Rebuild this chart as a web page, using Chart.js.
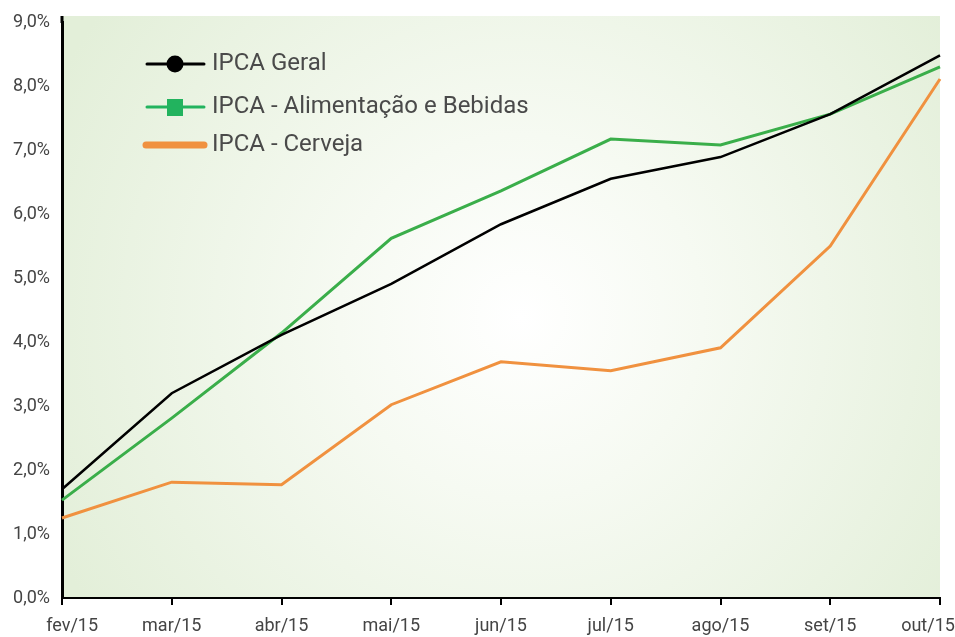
<!DOCTYPE html>
<html>
<head>
<meta charset="utf-8">
<script src="https://cdn.jsdelivr.net/npm/chart.js@4.4.0/dist/chart.umd.min.js"></script>
<style>
  html, body { margin: 0; padding: 0; background: #fff; }
  #wrap { width: 955px; height: 637px; }
</style>
</head>
<body>
<div id="wrap"><canvas id="chart" width="955" height="637"></canvas></div>
<script>
var months = ["fev/15", "mar/15", "abr/15", "mai/15", "jun/15", "jul/15", "ago/15", "set/15", "out/15"];
var ipcaGeral = [1.70, 3.20, 4.11, 4.91, 5.84, 6.55, 6.89, 7.56, 8.48];
var ipcaAlimentacao = [1.53, 2.81, 4.14, 5.62, 6.36, 7.17, 7.08, 7.56, 8.30];
var ipcaCerveja = [1.25, 1.81, 1.77, 3.02, 3.69, 3.55, 3.91, 5.50, 8.11];

var tickFont = "Roboto, sans-serif";

// gradient background behind the plot
var bgPlugin = {
    id: "bg",
    beforeDraw: function(chart) {
        var a = chart.chartArea, ctx = chart.ctx;
        var top = a.top - 6;
        ctx.save();
        var cx = (a.left + a.right) / 2 + 20, cy = (top + a.bottom) / 2 + 10;
        var g = ctx.createRadialGradient(cx, cy, 0, cx, cy, 520);
        g.addColorStop(0, "#ffffff");
        g.addColorStop(0.35, "#f6faf2");
        g.addColorStop(1, "#e3efd9");
        ctx.fillStyle = g;
        ctx.fillRect(a.left, top, a.right - a.left, a.bottom - top);
        // left axis runs up to the top of the panel
        ctx.strokeStyle = "#000";
        ctx.lineWidth = 3;
        ctx.beginPath();
        ctx.moveTo(a.left, top);
        ctx.lineTo(a.left, a.top + 1);
        ctx.stroke();
        ctx.restore();
    }
};

// legend drawn inside the plot
var legendPlugin = {
    id: "insideLegend",
    afterDraw: function(chart) {
        var ctx = chart.ctx;
        var rows = [64, 107, 145];
        ctx.save();
        chart.data.datasets.forEach(function(ds, i) {
            var y = rows[i];
            ctx.strokeStyle = i == 1 ? "#22b35e" : ds.borderColor;
            ctx.lineCap = "round";
            ctx.lineWidth = i == 2 ? 7 : 3;
            ctx.beginPath();
            ctx.moveTo(i == 2 ? 146 : 147, y);
            ctx.lineTo(204, y);
            ctx.stroke();
            if (i == 0) {
                ctx.fillStyle = ds.borderColor;
                ctx.beginPath();
                ctx.arc(175, y, 8.5, 0, Math.PI * 2);
                ctx.fill();
            } else if (i == 1) {
                ctx.fillStyle = "#22b35e";
                ctx.fillRect(167, y - 8, 16, 17);
            }
            ctx.fillStyle = "#4a4a4a";
            ctx.font = "24px Roboto, sans-serif";
            ctx.textBaseline = "middle";
            ctx.fillText(ds.label, 212, y);
        });
        ctx.restore();
    }
};

new Chart(document.getElementById("chart"), {
    type: "line",
    data: {
        labels: months,
        datasets: [{
            label: "IPCA Geral",
            data: ipcaGeral,
            borderColor: "#000000",
            borderWidth: 2.5
        }, {
            label: "IPCA - Alimentação e Bebidas",
            data: ipcaAlimentacao,
            borderColor: "#3aae4a",
            borderWidth: 3
        }, {
            label: "IPCA - Cerveja",
            data: ipcaCerveja,
            borderColor: "#f0913f",
            borderWidth: 3
        }]
    },
    options: {
        responsive: false,
        animation: false,
        layout: { padding: { top: 22, right: 15, left: 0, bottom: 0 } },
        elements: { point: { radius: 0 }, line: { tension: 0 } },
        plugins: { legend: { display: false }, tooltip: { enabled: false } },
        scales: {
            x: {
                offset: false,
                grid: { display: true, drawOnChartArea: false, color: "#000", lineWidth: 2, tickLength: 7 },
                border: { display: true, color: "#000", width: 2 },
                ticks: {
                    color: "#444",
                    font: { family: tickFont, size: 18 },
                    padding: 11,
                    maxRotation: 0,
                    autoSkip: false,
                    // nudge the end labels inward, as in the original
                    callback: function(v, i, ticks) {
                        var s = this.getLabelForValue(v);
                        if (i == 0) return "\u2007\u2007" + s;
                        if (i == ticks.length - 1) return s + "\u2007\u2007\u2009";
                        return s;
                    }
                },
                afterFit: function(scale) {
                    scale.height = 39;
                    scale.paddingLeft = 0;
                    scale.paddingRight = 0;
                }
            },
            y: {
                min: 0,
                max: 9,
                grid: { display: false, drawTicks: false },
                border: { display: true, color: "#000", width: 3 },
                ticks: {
                    stepSize: 1,
                    color: "#444",
                    padding: 12,
                    font: { family: tickFont, size: 18 },
                    callback: function(v) { return v.toFixed(1).replace(".", ",") + "%"; }
                },
                afterFit: function(scale) {
                    scale.width = 62;
                    scale.paddingTop = 0;
                    scale.paddingBottom = 0;
                }
            }
        }
    },
    plugins: [bgPlugin, legendPlugin]
});
</script>
</body>
</html>
